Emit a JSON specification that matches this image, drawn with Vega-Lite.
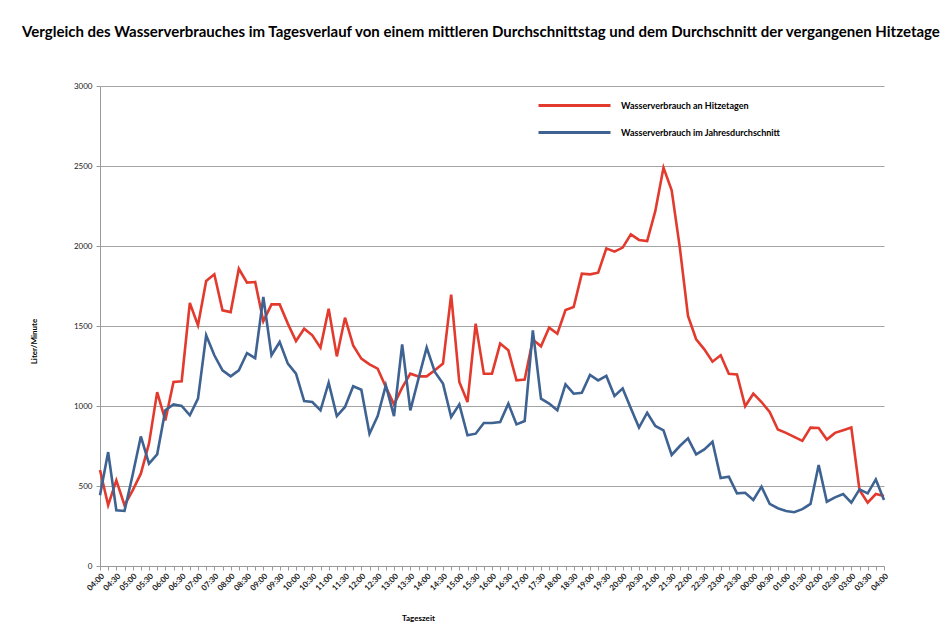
{
  "$schema": "https://vega.github.io/schema/vega-lite/v6.json",
  "width": 784,
  "height": 480,
  "autosize": {"type": "none"},
  "padding": {"left": 100, "top": 86, "right": 68, "bottom": 75},
  "background": "white",
  "title": {
    "text": "Vergleich des Wasserverbrauches im Tagesverlauf  von einem mittleren Durchschnittstag und dem Durchschnitt der vergangenen Hitzetage",
    "anchor": "start",
    "frame": "group",
    "dx": -78,
    "offset": 28,
    "font": "Lato",
    "fontSize": 15,
    "fontWeight": "bold",
    "color": "black"
  },
  "datasets": {
    "hitze": [
      {"zeit": "2024-07-01T04:00", "wert": 600}, {"zeit": "2024-07-01T04:15", "wert": 380}, {"zeit": "2024-07-01T04:30", "wert": 535}, {"zeit": "2024-07-01T04:45", "wert": 380},
      {"zeit": "2024-07-01T05:00", "wert": 473}, {"zeit": "2024-07-01T05:15", "wert": 577}, {"zeit": "2024-07-01T05:30", "wert": 765}, {"zeit": "2024-07-01T05:45", "wert": 1087},
      {"zeit": "2024-07-01T06:00", "wert": 910}, {"zeit": "2024-07-01T06:15", "wert": 1150}, {"zeit": "2024-07-01T06:30", "wert": 1155}, {"zeit": "2024-07-01T06:45", "wert": 1644},
      {"zeit": "2024-07-01T07:00", "wert": 1504}, {"zeit": "2024-07-01T07:15", "wert": 1781}, {"zeit": "2024-07-01T07:30", "wert": 1823}, {"zeit": "2024-07-01T07:45", "wert": 1598},
      {"zeit": "2024-07-01T08:00", "wert": 1587}, {"zeit": "2024-07-01T08:15", "wert": 1858}, {"zeit": "2024-07-01T08:30", "wert": 1771}, {"zeit": "2024-07-01T08:45", "wert": 1775},
      {"zeit": "2024-07-01T09:00", "wert": 1530}, {"zeit": "2024-07-01T09:15", "wert": 1635}, {"zeit": "2024-07-01T09:30", "wert": 1635}, {"zeit": "2024-07-01T09:45", "wert": 1515},
      {"zeit": "2024-07-01T10:00", "wert": 1406}, {"zeit": "2024-07-01T10:15", "wert": 1483}, {"zeit": "2024-07-01T10:30", "wert": 1442}, {"zeit": "2024-07-01T10:45", "wert": 1365},
      {"zeit": "2024-07-01T11:00", "wert": 1608}, {"zeit": "2024-07-01T11:15", "wert": 1310}, {"zeit": "2024-07-01T11:30", "wert": 1552}, {"zeit": "2024-07-01T11:45", "wert": 1379},
      {"zeit": "2024-07-01T12:00", "wert": 1296}, {"zeit": "2024-07-01T12:15", "wert": 1260}, {"zeit": "2024-07-01T12:30", "wert": 1233}, {"zeit": "2024-07-01T12:45", "wert": 1119},
      {"zeit": "2024-07-01T13:00", "wert": 1010}, {"zeit": "2024-07-01T13:15", "wert": 1115}, {"zeit": "2024-07-01T13:30", "wert": 1202}, {"zeit": "2024-07-01T13:45", "wert": 1185},
      {"zeit": "2024-07-01T14:00", "wert": 1185}, {"zeit": "2024-07-01T14:15", "wert": 1223}, {"zeit": "2024-07-01T14:30", "wert": 1265}, {"zeit": "2024-07-01T14:45", "wert": 1696},
      {"zeit": "2024-07-01T15:00", "wert": 1150}, {"zeit": "2024-07-01T15:15", "wert": 1025}, {"zeit": "2024-07-01T15:30", "wert": 1515}, {"zeit": "2024-07-01T15:45", "wert": 1202},
      {"zeit": "2024-07-01T16:00", "wert": 1202}, {"zeit": "2024-07-01T16:15", "wert": 1390}, {"zeit": "2024-07-01T16:30", "wert": 1348}, {"zeit": "2024-07-01T16:45", "wert": 1160},
      {"zeit": "2024-07-01T17:00", "wert": 1165}, {"zeit": "2024-07-01T17:15", "wert": 1415}, {"zeit": "2024-07-01T17:30", "wert": 1373}, {"zeit": "2024-07-01T17:45", "wert": 1490},
      {"zeit": "2024-07-01T18:00", "wert": 1452}, {"zeit": "2024-07-01T18:15", "wert": 1600}, {"zeit": "2024-07-01T18:30", "wert": 1619}, {"zeit": "2024-07-01T18:45", "wert": 1827},
      {"zeit": "2024-07-01T19:00", "wert": 1823}, {"zeit": "2024-07-01T19:15", "wert": 1833}, {"zeit": "2024-07-01T19:30", "wert": 1985}, {"zeit": "2024-07-01T19:45", "wert": 1965},
      {"zeit": "2024-07-01T20:00", "wert": 1990}, {"zeit": "2024-07-01T20:15", "wert": 2073}, {"zeit": "2024-07-01T20:30", "wert": 2038}, {"zeit": "2024-07-01T20:45", "wert": 2031},
      {"zeit": "2024-07-01T21:00", "wert": 2219}, {"zeit": "2024-07-01T21:15", "wert": 2490}, {"zeit": "2024-07-01T21:30", "wert": 2348}, {"zeit": "2024-07-01T21:45", "wert": 1990},
      {"zeit": "2024-07-01T22:00", "wert": 1563}, {"zeit": "2024-07-01T22:15", "wert": 1417}, {"zeit": "2024-07-01T22:30", "wert": 1354}, {"zeit": "2024-07-01T22:45", "wert": 1277},
      {"zeit": "2024-07-01T23:00", "wert": 1317}, {"zeit": "2024-07-01T23:15", "wert": 1201}, {"zeit": "2024-07-01T23:30", "wert": 1197}, {"zeit": "2024-07-01T23:45", "wert": 998},
      {"zeit": "2024-07-02T00:00", "wert": 1077}, {"zeit": "2024-07-02T00:15", "wert": 1025}, {"zeit": "2024-07-02T00:30", "wert": 963}, {"zeit": "2024-07-02T00:45", "wert": 853},
      {"zeit": "2024-07-02T01:00", "wert": 832}, {"zeit": "2024-07-02T01:15", "wert": 807}, {"zeit": "2024-07-02T01:30", "wert": 782}, {"zeit": "2024-07-02T01:45", "wert": 865},
      {"zeit": "2024-07-02T02:00", "wert": 863}, {"zeit": "2024-07-02T02:15", "wert": 790}, {"zeit": "2024-07-02T02:30", "wert": 832}, {"zeit": "2024-07-02T02:45", "wert": 848},
      {"zeit": "2024-07-02T03:00", "wert": 865}, {"zeit": "2024-07-02T03:15", "wert": 475}, {"zeit": "2024-07-02T03:30", "wert": 396}, {"zeit": "2024-07-02T03:45", "wert": 450},
      {"zeit": "2024-07-02T04:00", "wert": 438}
    ],
    "jahr": [
      {"zeit": "2024-07-01T04:00", "wert": 442}, {"zeit": "2024-07-01T04:15", "wert": 712}, {"zeit": "2024-07-01T04:30", "wert": 348}, {"zeit": "2024-07-01T04:45", "wert": 344},
      {"zeit": "2024-07-01T05:00", "wert": 570}, {"zeit": "2024-07-01T05:15", "wert": 810}, {"zeit": "2024-07-01T05:30", "wert": 640}, {"zeit": "2024-07-01T05:45", "wert": 698},
      {"zeit": "2024-07-01T06:00", "wert": 973}, {"zeit": "2024-07-01T06:15", "wert": 1010}, {"zeit": "2024-07-01T06:30", "wert": 1000}, {"zeit": "2024-07-01T06:45", "wert": 942},
      {"zeit": "2024-07-01T07:00", "wert": 1046}, {"zeit": "2024-07-01T07:15", "wert": 1442}, {"zeit": "2024-07-01T07:30", "wert": 1317}, {"zeit": "2024-07-01T07:45", "wert": 1223},
      {"zeit": "2024-07-01T08:00", "wert": 1185}, {"zeit": "2024-07-01T08:15", "wert": 1223}, {"zeit": "2024-07-01T08:30", "wert": 1331}, {"zeit": "2024-07-01T08:45", "wert": 1299},
      {"zeit": "2024-07-01T09:00", "wert": 1681}, {"zeit": "2024-07-01T09:15", "wert": 1317}, {"zeit": "2024-07-01T09:30", "wert": 1400}, {"zeit": "2024-07-01T09:45", "wert": 1265},
      {"zeit": "2024-07-01T10:00", "wert": 1202}, {"zeit": "2024-07-01T10:15", "wert": 1031}, {"zeit": "2024-07-01T10:30", "wert": 1025}, {"zeit": "2024-07-01T10:45", "wert": 973},
      {"zeit": "2024-07-01T11:00", "wert": 1146}, {"zeit": "2024-07-01T11:15", "wert": 937}, {"zeit": "2024-07-01T11:30", "wert": 994}, {"zeit": "2024-07-01T11:45", "wert": 1123},
      {"zeit": "2024-07-01T12:00", "wert": 1102}, {"zeit": "2024-07-01T12:15", "wert": 827}, {"zeit": "2024-07-01T12:30", "wert": 937}, {"zeit": "2024-07-01T12:45", "wert": 1129},
      {"zeit": "2024-07-01T13:00", "wert": 937}, {"zeit": "2024-07-01T13:15", "wert": 1385}, {"zeit": "2024-07-01T13:30", "wert": 973}, {"zeit": "2024-07-01T13:45", "wert": 1171},
      {"zeit": "2024-07-01T14:00", "wert": 1365}, {"zeit": "2024-07-01T14:15", "wert": 1213}, {"zeit": "2024-07-01T14:30", "wert": 1140}, {"zeit": "2024-07-01T14:45", "wert": 931},
      {"zeit": "2024-07-01T15:00", "wert": 1010}, {"zeit": "2024-07-01T15:15", "wert": 817}, {"zeit": "2024-07-01T15:30", "wert": 827}, {"zeit": "2024-07-01T15:45", "wert": 894},
      {"zeit": "2024-07-01T16:00", "wert": 894}, {"zeit": "2024-07-01T16:15", "wert": 900}, {"zeit": "2024-07-01T16:30", "wert": 1015}, {"zeit": "2024-07-01T16:45", "wert": 885},
      {"zeit": "2024-07-01T17:00", "wert": 906}, {"zeit": "2024-07-01T17:15", "wert": 1473}, {"zeit": "2024-07-01T17:30", "wert": 1046}, {"zeit": "2024-07-01T17:45", "wert": 1015},
      {"zeit": "2024-07-01T18:00", "wert": 973}, {"zeit": "2024-07-01T18:15", "wert": 1135}, {"zeit": "2024-07-01T18:30", "wert": 1077}, {"zeit": "2024-07-01T18:45", "wert": 1083},
      {"zeit": "2024-07-01T19:00", "wert": 1194}, {"zeit": "2024-07-01T19:15", "wert": 1160}, {"zeit": "2024-07-01T19:30", "wert": 1188}, {"zeit": "2024-07-01T19:45", "wert": 1063},
      {"zeit": "2024-07-01T20:00", "wert": 1110}, {"zeit": "2024-07-01T20:15", "wert": 986}, {"zeit": "2024-07-01T20:30", "wert": 865}, {"zeit": "2024-07-01T20:45", "wert": 958},
      {"zeit": "2024-07-01T21:00", "wert": 875}, {"zeit": "2024-07-01T21:15", "wert": 848}, {"zeit": "2024-07-01T21:30", "wert": 694}, {"zeit": "2024-07-01T21:45", "wert": 750},
      {"zeit": "2024-07-01T22:00", "wert": 798}, {"zeit": "2024-07-01T22:15", "wert": 698}, {"zeit": "2024-07-01T22:30", "wert": 729}, {"zeit": "2024-07-01T22:45", "wert": 777},
      {"zeit": "2024-07-01T23:00", "wert": 550}, {"zeit": "2024-07-01T23:15", "wert": 558}, {"zeit": "2024-07-01T23:30", "wert": 454}, {"zeit": "2024-07-01T23:45", "wert": 458},
      {"zeit": "2024-07-02T00:00", "wert": 413}, {"zeit": "2024-07-02T00:15", "wert": 496}, {"zeit": "2024-07-02T00:30", "wert": 388}, {"zeit": "2024-07-02T00:45", "wert": 361},
      {"zeit": "2024-07-02T01:00", "wert": 344}, {"zeit": "2024-07-02T01:15", "wert": 336}, {"zeit": "2024-07-02T01:30", "wert": 355}, {"zeit": "2024-07-02T01:45", "wert": 388},
      {"zeit": "2024-07-02T02:00", "wert": 631}, {"zeit": "2024-07-02T02:15", "wert": 402}, {"zeit": "2024-07-02T02:30", "wert": 429}, {"zeit": "2024-07-02T02:45", "wert": 450},
      {"zeit": "2024-07-02T03:00", "wert": 396}, {"zeit": "2024-07-02T03:15", "wert": 479}, {"zeit": "2024-07-02T03:30", "wert": 454}, {"zeit": "2024-07-02T03:45", "wert": 541},
      {"zeit": "2024-07-02T04:00", "wert": 413}
    ]
  },
  "layer": [
    {
      "data": {"name": "hitze"},
      "mark": {"type": "line", "strokeWidth": 2.6},
      "encoding": {
        "x": {
          "field": "zeit",
          "type": "temporal",
          "scale": {"nice": false},
          "axis": {
            "title": "Tageszeit",
            "titleFont": "Lato",
            "titleFontSize": 8,
            "titleFontWeight": "bold",
            "titleColor": "black",
            "titleX": 318,
            "titleY": 48,
            "tickCount": 96,
            "format": "%H:%M",
            "labelExpr": "timeFormat(datum.value, '%M') == '15' || timeFormat(datum.value, '%M') == '45' ? '' : datum.label",
            "labelAngle": -45,
            "labelFont": "Lato",
            "labelFontSize": 8,
            "labelFontWeight": "bold",
            "labelColor": "#222222",
            "labelOverlap": false,
            "labelFlush": false,
            "labelPadding": 2,
            "grid": false,
            "domainColor": "#9a9a9a",
            "tickColor": "#9a9a9a",
            "tickSize": 4
          }
        },
        "y": {
          "field": "wert",
          "type": "quantitative",
          "scale": {"domain": [0, 3000], "nice": false},
          "axis": {
            "title": "Liter/Minute",
            "titleFont": "Lato",
            "titleFontSize": 8,
            "titleFontWeight": "bold",
            "titleColor": "black",
            "titleX": -62,
            "titleY": 255,
            "values": [0, 500, 1000, 1500, 2000, 2500, 3000],
            "format": "d",
            "labelFont": "Lato",
            "labelFontSize": 8,
            "labelColor": "#222222",
            "labelPadding": 4,
            "domainColor": "#9a9a9a",
            "tickColor": "#9a9a9a",
            "tickSize": 4,
            "gridColor": "#a3a3a3",
            "gridWidth": 1
          }
        },
        "color": {
          "datum": "Wasserverbrauch an Hitzetagen",
          "type": "nominal",
          "scale": {"domain": ["Wasserverbrauch an Hitzetagen"], "range": ["#e33a2e"]},
          "legend": {
            "title": null,
            "orient": "none",
            "legendX": 437,
            "legendY": -18,
            "symbolType": "stroke",
            "symbolSize": 5184,
            "symbolStrokeWidth": 3,
            "labelFont": "Lato",
            "labelFontSize": 9,
            "labelFontWeight": "bold",
            "labelColor": "black",
            "labelOffset": 9
          }
        }
      }
    },
    {
      "data": {"name": "jahr"},
      "mark": {"type": "line", "strokeWidth": 2.6},
      "encoding": {
        "x": {"field": "zeit", "type": "temporal"},
        "y": {"field": "wert", "type": "quantitative"},
        "color": {
          "datum": "Wasserverbrauch im Jahresdurchschnitt",
          "type": "nominal",
          "scale": {"domain": ["Wasserverbrauch im Jahresdurchschnitt"], "range": ["#3e6291"]},
          "legend": {
            "title": null,
            "orient": "none",
            "legendX": 437,
            "legendY": 9,
            "symbolType": "stroke",
            "symbolSize": 5184,
            "symbolStrokeWidth": 3,
            "labelFont": "Lato",
            "labelFontSize": 9,
            "labelFontWeight": "bold",
            "labelColor": "black",
            "labelOffset": 9
          }
        }
      }
    }
  ],
  "resolve": {"scale": {"color": "independent"}},
  "config": {"view": {"stroke": null}, "font": "Lato"}
}
